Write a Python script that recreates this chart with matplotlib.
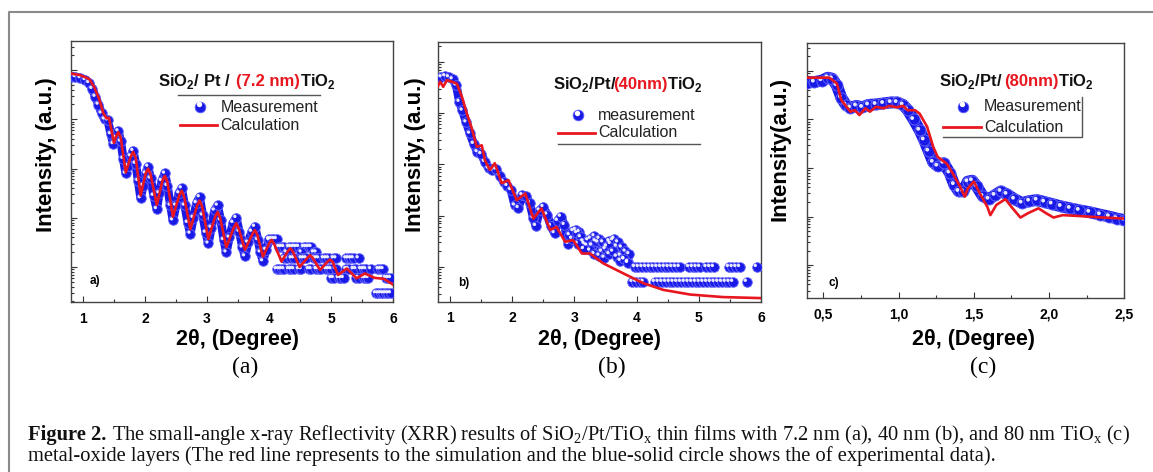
import numpy as np
import matplotlib
matplotlib.use('Agg')
import matplotlib.pyplot as plt
from matplotlib import transforms
from matplotlib.lines import Line2D
from matplotlib.ticker import LogLocator, NullFormatter, MultipleLocator, FuncFormatter

SANS = ['Liberation Sans', 'DejaVu Sans']
SERIF = ['Liberation Serif', 'DejaVu Serif']
BLUE = '#1a1ae6'
RED = '#e8161e'

plt.rcParams['font.family'] = SANS
plt.rcParams['font.weight'] = 'bold'

# all intensities are stored as log10(counts)

# (a) 7.2 nm TiO2
calc_a_x = [0.80, 0.95, 1.10, 1.18, 1.26, 1.33, 1.38, 1.42, 1.50, 1.53, 1.57, 1.61,
            1.69, 1.77, 1.81, 1.85, 1.93, 2.01, 2.05, 2.09, 2.19, 2.28, 2.32, 2.36,
            2.45, 2.55, 2.59, 2.63, 2.73, 2.84, 2.88, 2.92, 3.02, 3.13, 3.17, 3.21,
            3.31, 3.43, 3.47, 3.51, 3.61, 3.73, 3.77, 3.81, 3.90, 4.00, 4.04, 4.08,
            4.20, 4.30, 4.34, 4.38, 4.49, 4.62, 4.66, 4.70, 4.82, 4.94, 4.98, 5.02,
            5.11, 5.25, 5.41, 5.54, 5.70, 5.85, 6.00]
calc_a_y = [4.93, 4.90, 4.82, 4.66, 4.42, 4.12, 4.02, 4.03, 3.52, 3.64, 3.74, 3.62,
            2.92, 3.24, 3.34, 3.22, 2.45, 2.90, 3.00, 2.88, 2.26, 2.75, 2.85, 2.73,
            2.02, 2.45, 2.55, 2.43, 1.77, 2.25, 2.35, 2.23, 1.57, 2.02, 2.12, 2.00,
            1.40, 1.80, 1.89, 1.78, 1.35, 1.67, 1.75, 1.65, 1.21, 1.48, 1.55, 1.47,
            1.11, 1.32, 1.38, 1.32, 1.00, 1.19, 1.24, 1.19, 0.94, 1.11, 1.15, 1.11,
            0.84, 0.97, 0.77, 0.87, 0.78, 0.76, 0.64]
meas_a_x = [0.80, 0.88, 0.96, 1.04, 1.10, 1.15, 1.20, 1.25, 1.30, 1.35, 1.40, 1.45,
            1.49, 1.53, 1.57, 1.61, 1.65, 1.69, 1.73, 1.77, 1.81, 1.85, 1.89, 1.93,
            1.97, 2.01, 2.05, 2.09, 2.14, 2.19, 2.23, 2.27, 2.32, 2.36, 2.41, 2.45,
            2.50, 2.55, 2.59, 2.64, 2.69, 2.73, 2.78, 2.83, 2.88, 2.93, 2.98, 3.02,
            3.07, 3.12, 3.17, 3.22, 3.27, 3.31, 3.36, 3.42, 3.47, 3.52, 3.57, 3.61,
            3.66, 3.72, 3.77, 3.82, 3.86, 3.90, 3.95, 4.00]
meas_a_y = [4.86, 4.86, 4.84, 4.80, 4.74, 4.62, 4.46, 4.30, 4.12, 4.00, 3.98, 3.70,
            3.50, 3.62, 3.76, 3.55, 3.20, 2.90, 3.05, 3.25, 3.36, 3.10, 2.75, 2.40,
            2.65, 2.90, 3.04, 2.80, 2.45, 2.18, 2.50, 2.75, 2.90, 2.65, 2.25, 1.95,
            2.25, 2.50, 2.60, 2.25, 1.90, 1.68, 2.00, 2.30, 2.42, 2.05, 1.70, 1.48,
            1.80, 2.15, 2.25, 1.95, 1.55, 1.30, 1.60, 1.90, 2.00, 1.72, 1.40, 1.22,
            1.50, 1.72, 1.82, 1.55, 1.30, 1.12, 1.35, 1.55]
# low-count tail: the detector counts sit on a few discrete levels
tail_a_levels = [1.57, 1.41, 1.30, 1.18, 0.96, 0.78, 0.47]
tail_a_x = [
    [4.00, 4.04, 4.08, 4.12],
    [4.16, 4.20, 4.24, 4.32, 4.36, 4.40, 4.44, 4.48, 4.56, 4.60, 4.64, 4.68],
    [4.28, 4.52, 4.72, 4.76],
    [4.24, 4.28, 4.36, 4.40, 4.52, 4.56, 4.60, 4.72, 4.76, 4.80, 4.88, 4.92,
     4.96, 5.04, 5.08, 5.24, 5.28, 5.32, 5.36, 5.44],
    [4.12, 4.16, 4.20, 4.24, 4.32, 4.36, 4.40, 4.48, 4.52, 4.64, 4.68, 4.76,
     4.80, 4.84, 4.92, 4.96, 5.00, 5.08, 5.24, 5.28, 5.36, 5.40, 5.48, 5.52,
     5.56, 5.64, 5.76, 5.80, 5.84],
    [5.00, 5.04, 5.12, 5.16, 5.20, 5.40, 5.44, 5.52, 5.56, 5.60, 5.88, 5.92, 5.96],
    [5.72, 5.76, 5.80, 5.84, 5.88, 5.92, 5.96],
]

# (b) 40 nm TiO2
calc_b_x = [0.80, 0.84, 0.89, 0.95, 1.03, 1.11, 1.19, 1.27, 1.35, 1.43, 1.51, 1.56,
            1.64, 1.72, 1.83, 1.94, 2.07, 2.21, 2.34, 2.47, 2.61, 2.71, 2.85, 2.98,
            3.12, 3.25, 3.46, 3.79, 4.11, 4.43, 4.86, 5.39, 6.00]
calc_b_y = [4.51, 4.61, 4.51, 4.64, 4.61, 4.57, 4.32, 3.99, 3.70, 3.34, 3.37, 3.08,
            2.89, 3.02, 2.63, 2.69, 2.30, 2.43, 1.94, 2.14, 1.72, 1.78, 1.49, 1.52,
            1.26, 1.26, 1.07, 0.87, 0.68, 0.55, 0.46, 0.41, 0.39]
meas_b_x = [0.80, 0.86, 0.92, 0.98, 1.04, 1.10, 1.15, 1.20, 1.26, 1.32, 1.38, 1.44,
            1.50, 1.56, 1.62, 1.68, 1.74, 1.80, 1.86, 1.92, 1.98, 2.04, 2.10, 2.16,
            2.22, 2.28, 2.34, 2.38, 2.44, 2.50, 2.56, 2.62, 2.68, 2.73, 2.78, 2.84,
            2.90, 2.96, 3.02, 3.08, 3.14, 3.20, 3.26, 3.32, 3.38, 3.44, 3.50, 3.56,
            3.62, 3.68, 3.74, 3.80, 3.86]
meas_b_y = [4.66, 4.70, 4.72, 4.70, 4.66, 4.54, 4.22, 4.05, 3.82, 3.60, 3.40, 3.24,
            3.20, 3.05, 2.92, 2.88, 2.90, 2.78, 2.66, 2.58, 2.50, 2.20, 2.15, 2.40,
            2.38, 2.25, 1.95, 1.80, 2.10, 2.17, 2.02, 1.80, 1.66, 1.90, 1.98, 1.82,
            1.45, 1.55, 1.72, 1.68, 1.50, 1.42, 1.55, 1.60, 1.48, 1.30, 1.35, 1.50,
            1.52, 1.40, 1.22, 1.15, 1.10]
cloud_b_x = [2.92, 2.98, 3.04, 3.10, 3.16, 3.22, 3.28, 3.34, 3.40, 3.46, 3.52, 3.58,
             3.64, 3.70, 3.76, 3.82, 3.88, 3.25, 3.32, 3.40, 3.48, 3.56, 3.62, 3.68,
             3.74, 3.80, 3.86, 3.15, 3.05]
cloud_b_y = [1.62, 1.70, 1.66, 1.58, 1.45, 1.52, 1.42, 1.50, 1.55, 1.48, 1.40, 1.45,
             1.55, 1.48, 1.38, 1.30, 1.25, 1.32, 1.25, 1.22, 1.18, 1.25, 1.30, 1.20,
             1.12, 1.15, 1.08, 1.35, 1.45]
tail_b_levels = [1.00, 0.71]
tail_b_x = [
    [3.97, 4.03, 4.09, 4.15, 4.21, 4.27, 4.33, 4.39, 4.45, 4.51, 4.57, 4.63, 4.69,
     4.84, 4.90, 4.96, 5.02, 5.12, 5.18, 5.24, 5.48, 5.54, 5.60, 5.66, 5.93],
    [3.93, 3.99, 4.05, 4.11, 4.29, 4.35, 4.41, 4.47, 4.53, 4.59, 4.65, 4.71, 4.77,
     4.83, 4.89, 4.95, 5.01, 5.07, 5.13, 5.19, 5.25, 5.31, 5.37, 5.43, 5.49, 5.55,
     5.77],
]

# (c) 80 nm TiO2
calc_c_x = [0.39, 0.54, 0.59, 0.62, 0.68, 0.71, 0.74, 0.78, 0.81, 0.85, 0.90, 0.94,
            0.99, 1.03, 1.06, 1.11, 1.14, 1.19, 1.23, 1.26, 1.32, 1.36, 1.41, 1.44,
            1.46, 1.50, 1.54, 1.59, 1.61, 1.65, 1.71, 1.75, 1.81, 1.86, 1.93, 1.98,
            2.03, 2.09, 2.21, 2.36, 2.50]
calc_c_y = [4.86, 4.86, 4.74, 4.40, 4.16, 4.19, 4.09, 4.23, 4.16, 4.26, 4.23, 4.28,
            4.25, 4.28, 4.19, 4.19, 4.12, 3.85, 3.44, 3.23, 3.09, 2.89, 2.61, 2.41,
            2.58, 2.72, 2.48, 2.20, 2.03, 2.24, 2.36, 2.20, 1.98, 2.07, 2.17, 2.07,
            1.98, 2.03, 2.01, 1.98, 1.96]
meas_c_x = [0.39, 0.44, 0.49, 0.53, 0.56, 0.59, 0.62, 0.65, 0.68, 0.72, 0.76, 0.80,
            0.85, 0.90, 0.95, 0.99, 1.03, 1.06, 1.10, 1.14, 1.17, 1.20, 1.23, 1.26,
            1.30, 1.34, 1.37, 1.40, 1.43, 1.46, 1.49, 1.52, 1.56, 1.60, 1.64, 1.68,
            1.72, 1.77, 1.82, 1.87, 1.92, 1.97, 2.02, 2.08, 2.14, 2.20, 2.27, 2.34,
            2.40, 2.45, 2.50]
meas_c_y = [4.76, 4.77, 4.80, 4.86, 4.84, 4.70, 4.45, 4.30, 4.24, 4.28, 4.25, 4.30,
            4.31, 4.33, 4.35, 4.35, 4.30, 4.20, 4.00, 3.78, 3.58, 3.35, 3.12, 3.04,
            3.10, 2.90, 2.66, 2.52, 2.52, 2.72, 2.74, 2.62, 2.42, 2.36, 2.44, 2.52,
            2.46, 2.36, 2.28, 2.32, 2.34, 2.30, 2.26, 2.21, 2.17, 2.13, 2.09, 2.04,
            2.00, 1.96, 1.93]


W, H = 1153, 472
fig = plt.figure(figsize=(W / 100, H / 100), dpi=100)
renderer = fig.canvas.get_renderer()


def px_axes(left, top, right, bottom):
    return fig.add_axes([left / W, 1 - bottom / H, (right - left) / W, (bottom - top) / H])


def style(ax, xlim, ylog, major, minor, comma=False):
    ax.set_yscale('log')
    ax.set_xlim(*xlim)
    ax.set_ylim(10 ** ylog[0], 10 ** ylog[1])
    ax.xaxis.set_major_locator(MultipleLocator(major))
    ax.xaxis.set_minor_locator(MultipleLocator(minor))
    if comma:
        ax.xaxis.set_major_formatter(FuncFormatter(lambda v, p: f'{v:.1f}'.replace('.', ',')))
    ax.yaxis.set_major_locator(LogLocator(base=10, numticks=20))
    ax.yaxis.set_minor_locator(LogLocator(base=10, subs=np.arange(2, 10), numticks=20))
    ax.yaxis.set_major_formatter(NullFormatter())
    ax.yaxis.set_minor_formatter(NullFormatter())
    ax.tick_params(which='both', direction='in', top=False, right=False,
                   color='#333333', width=0.8, labelsize=10, pad=7)
    ax.tick_params(which='major', length=4)
    ax.tick_params(which='minor', length=2)
    for sp in ax.spines.values():
        sp.set_linewidth(1.0)
        sp.set_color('#444444')


def spheres(ax, x, y, chain=True, s=48, lw=6.2):
    y = np.power(10.0, y)
    if chain:
        ax.plot(x, y, color=BLUE, lw=lw, solid_capstyle='round',
                solid_joinstyle='round', zorder=2)
    ax.scatter(x, y, s=s, color=BLUE, edgecolors='#6a6aff', linewidths=0.6, zorder=3)
    shine = transforms.offset_copy(ax.transData, fig=fig, x=-1.0, y=1.0, units='points')
    ax.scatter(x, y, s=s * 0.12, color='white', alpha=0.9, edgecolors='none',
               transform=shine, zorder=4)


def calc(ax, x, y):
    ax.plot(x, np.power(10.0, y), color=RED, lw=1.9, solid_joinstyle='round', zorder=5)


def pieces(parent, x, y, parts, transform, size, weights, family):
    # lays text fragments side by side on one baseline; the third item of
    # each part is extra space (pixels) after it
    dx = 0.0
    for i, (txt, col, extra) in enumerate(parts):
        tr = transforms.offset_copy(transform, fig=fig, x=dx, y=0, units='dots')
        t = parent.text(x, y, txt, transform=tr, color=col, fontsize=size,
                        fontweight=weights[i], family=family, ha='left', va='baseline')
        dx += t.get_window_extent(renderer).width + extra


def legend(ax, title, tx, ty, mx, my, lx0, lx1, ly, labels, line=None, frame=None):
    pieces(ax, tx, ty, title, ax.transAxes, 12, ['bold'] * 3, SANS)
    ax.scatter([mx], [my], s=60, color=BLUE, edgecolors='#6a6aff', linewidths=0.6,
               transform=ax.transAxes, zorder=6)
    ax.scatter([mx - 0.004], [my + 0.01], s=8, color='white', transform=ax.transAxes, zorder=7)
    ax.add_line(Line2D([lx0, lx1], [ly, ly], color=RED, lw=2, transform=ax.transAxes))
    tx2 = lx1 + 0.01
    ax.text(tx2, my, labels[0], transform=ax.transAxes, fontsize=11.5,
            fontweight='normal', va='center', ha='left', color='#222222')
    ax.text(tx2, ly, labels[1], transform=ax.transAxes, fontsize=11.5,
            fontweight='normal', va='center', ha='left', color='#222222')
    if line is not None:
        ax.add_line(Line2D(line[0], line[1], color='#555555', lw=1.0, transform=ax.transAxes))
    if frame is not None:
        ax.add_line(Line2D(frame[0], frame[1], color='#555555', lw=1.0, transform=ax.transAxes))


def fig_text(x, y, s, **kw):
    fig.text(x / W, 1 - y / H, s, ha='center', va='center', **kw)


SUB2 = r'$_\mathregular{2}$'
SUBX = r'$_\mathregular{x}$'
INK = '#111111'

# ---- panel (a)
ax_a = px_axes(70.5, 41, 393.3, 302)
style(ax_a, (0.8, 6.0), (0.29, 5.59), 1, 0.5)
spheres(ax_a, meas_a_x, meas_a_y)
for lvl, xs in zip(tail_a_levels, tail_a_x):
    spheres(ax_a, xs, [lvl] * len(xs), chain=False)
calc(ax_a, calc_a_x, calc_a_y)
legend(ax_a, [('SiO' + SUB2 + '/ Pt /', INK, 5), ('(7.2 nm)', RED, 0), ('TiO' + SUB2, INK, 0)],
       0.271, 0.828, 0.401, 0.747, 0.339, 0.454, 0.678,
       ['Measurement', 'Calculation'],
       line=([0.333, 0.773], [0.795, 0.795]))
ax_a.text(0.06, 0.08, 'a)', transform=ax_a.transAxes, fontsize=8.5, va='center')

# ---- panel (b)
ax_b = px_axes(437.6, 41.7, 761, 301.7)
style(ax_b, (0.8, 6.0), (0.32, 5.39), 1, 0.5)
spheres(ax_b, meas_b_x, meas_b_y)
spheres(ax_b, cloud_b_x, cloud_b_y, chain=False)
for lvl, xs in zip(tail_b_levels, tail_b_x):
    spheres(ax_b, xs, [lvl] * len(xs), chain=False)
calc(ax_b, calc_b_x, calc_b_y)
legend(ax_b, [('SiO' + SUB2 + '/Pt/', INK, -4), ('(40nm)', RED, 0), ('TiO' + SUB2, INK, 0)],
       0.358, 0.817, 0.434, 0.717, 0.372, 0.487, 0.649,
       ['measurement', 'Calculation'],
       line=([0.372, 0.812], [0.607, 0.607]))
ax_b.text(0.063, 0.072, 'b)', transform=ax_b.transAxes, fontsize=8.5, va='center')

# ---- panel (c)
ax_c = px_axes(806.7, 42.7, 1124.3, 297.7)
style(ax_c, (0.39, 2.5), (0.33, 5.58), 0.5, 0.25, comma=True)
spheres(ax_c, meas_c_x, meas_c_y, s=64, lw=8.5)
calc(ax_c, calc_c_x, calc_c_y)
legend(ax_c, [('SiO' + SUB2 + '/Pt/', INK, 1), ('(80nm)', RED, 0), ('TiO' + SUB2, INK, 0)],
       0.4175, 0.830, 0.492, 0.748, 0.429, 0.549, 0.669,
       ['Measurement', 'Calculation'],
       frame=([0.429, 0.867, 0.867], [0.630, 0.630, 0.787]))
ax_c.text(0.07, 0.057, 'c)', transform=ax_c.transAxes, fontsize=8.5, va='center')

# ---- axis titles and sub-captions
for xc, lab in [(47, 'Intensity, (a.u.)'), (415, 'Intensity, (a.u.)')]:
    fig_text(xc, 155, lab, rotation=90, fontsize=16)
fig_text(780, 149, 'Intensity(a.u.)', rotation=90, fontsize=16)
for xc in (238, 599, 973):
    fig_text(xc, 340, '2\u03b8, (Degree)', fontsize=15.5)
for xc, tag in [(245, '(a)'), (612, '(b)'), (983, '(c)')]:
    fig_text(xc, 367, tag, fontsize=17, family=SERIF, fontweight='normal')

# ---- caption
pieces(fig, 28 / W, 1 - 440 / H,
       [('Figure 2.', INK, 6),
        ('The small-angle x-ray Reflectivity (XRR) results of SiO' + SUB2 + '/Pt/TiO' + SUBX +
         ' thin films with 7.2 nm (a), 40 nm (b), and 80 nm TiO' + SUBX + ' (c)', INK, 0)],
       fig.transFigure, 14.8, ['bold', 'normal'], SERIF)
fig.text(28 / W, 1 - 461 / H,
         'metal-oxide layers (The red line represents to the simulation and the blue-solid '
         'circle shows the of experimental data).',
         fontsize=14.8, fontweight='normal', family=SERIF, va='baseline', color=INK)

# outer frame
fig.add_artist(Line2D([9 / W, 9 / W, 1.0], [0.0, 1 - 12 / H, 1 - 12 / H],
                      color='#8a8a8a', lw=1.5, transform=fig.transFigure))

fig.savefig('out.png', dpi=100)
